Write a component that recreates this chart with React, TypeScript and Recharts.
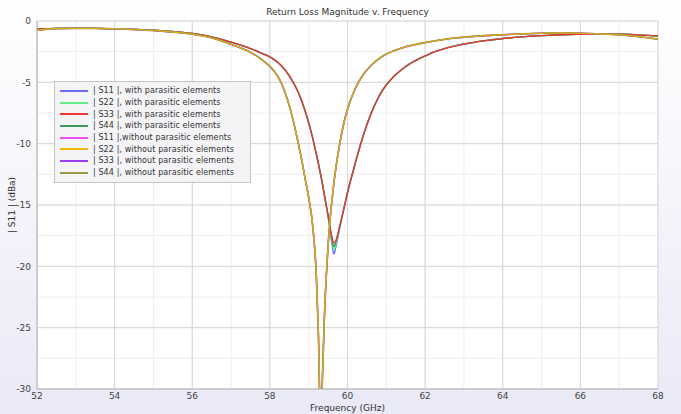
import { CartesianGrid, Line, LineChart, XAxis, YAxis } from 'recharts'

const freq = [
  52, 52.5, 53, 53.5, 54, 54.5, 55, 55.5, 56, 56.5, 57, 57.25, 57.5, 57.75, 58,
  58.1, 58.2, 58.3, 58.4, 58.5, 58.6, 58.7, 58.8, 58.9, 59, 59.1, 59.2,
  59.25, 59.3, 59.35, 59.4, 59.45, 59.5, 59.55, 59.6, 59.65, 59.7,
  59.8, 59.9, 60, 60.2, 60.4, 60.6, 60.8, 61, 61.2, 61.4, 61.6, 61.8, 62,
  62.25, 62.5, 62.75, 63, 63.5, 64, 64.5, 65, 65.5, 66, 66.5, 67, 67.5, 68,
]

// |S33| with parasitic elements (the four "with" traces overlap except at the dip)
const withParasitic = [
  -0.65, -0.6, -0.6, -0.6, -0.63, -0.68, -0.75, -0.86, -1.02, -1.3, -1.72, -1.97, -2.25, -2.57, -2.93,
  -3.13, -3.37, -3.67, -4.03, -4.47, -5.0, -5.6, -6.35, -7.25, -8.3, -9.5, -10.9,
  -11.6, -12.4, -13.2, -14.1, -15.0, -15.8, -16.8, -17.6, -18.1, -17.9,
  -16.7, -15.4, -14.0, -11.6, -9.4, -7.6, -6.2, -5.2, -4.5, -3.95, -3.5, -3.15, -2.85,
  -2.5, -2.25, -2.05, -1.88, -1.62, -1.43, -1.29, -1.19, -1.12, -1.08, -1.06, -1.08, -1.13, -1.22,
]

// |S44| without parasitic elements (the four "without" traces overlap)
const withoutParasitic = [
  -0.75, -0.62, -0.6, -0.6, -0.63, -0.69, -0.77, -0.9, -1.07, -1.38, -1.9, -2.2, -2.55, -3.05, -3.7,
  -4.05, -4.5, -5.1, -5.9, -6.9, -8.1, -9.5, -11.0, -12.7, -14.4, -16.6, -21.0,
  -25.5, -32.0, -29.5, -24.5, -21.0, -18.3, -16.2, -14.6, -13.2, -12.0,
  -10.0, -8.4, -7.2, -5.5, -4.4, -3.65, -3.1, -2.7, -2.42, -2.2, -2.02, -1.88, -1.76,
  -1.62, -1.5, -1.4, -1.32, -1.2, -1.12, -1.05, -1.0, -0.97, -1.0, -1.05, -1.13, -1.27, -1.48,
]

// dip values where the "with" traces part (freq -> dB)
const s11WithDip: Record<number, number> = { 59.5: -16.0, 59.55: -17.0, 59.6: -18.2, 59.65: -19.0, 59.7: -18.4, 59.8: -16.9 }
const s22WithDip: Record<number, number> = { 59.5: -15.9, 59.55: -16.9, 59.6: -17.9, 59.65: -18.7, 59.7: -18.2, 59.8: -16.8 }
const s44WithDip: Record<number, number> = { 59.5: -15.85, 59.55: -16.85, 59.6: -17.8, 59.65: -18.4, 59.7: -18.0, 59.8: -16.75 }

const xTicks = [52, 54, 56, 58, 60, 62, 64, 66, 68]
const yTicks = [-30, -25, -20, -15, -10, -5, 0]

const series = [
  { key: 's11With', name: '| S11 |, with parasitic elements', color: '#6b6bf2', base: withParasitic, dip: s11WithDip, width: 1.4 },
  { key: 's22With', name: '| S22 |, with parasitic elements', color: '#62ee8c', base: withParasitic, dip: s22WithDip, width: 1.4 },
  { key: 's33With', name: '| S33 |, with parasitic elements', color: '#ee3333', base: withParasitic, dip: {}, width: 1.3 },
  { key: 's44With', name: '| S44 |, with parasitic elements', color: '#3c9a5c', base: withParasitic, dip: s44WithDip, width: 1.4 },
  { key: 's11Without', name: '| S11 |,without parasitic elements', color: '#f050f0', base: withoutParasitic, dip: {}, width: 1.4 },
  { key: 's22Without', name: '| S22 |, without parasitic elements', color: '#f2b800', base: withoutParasitic, dip: {}, width: 0.8 },
  { key: 's33Without', name: '| S33 |, without parasitic elements', color: '#9a3cf0', base: withoutParasitic, dip: {}, width: 1.4 },
  { key: 's44Without', name: '| S44 |, without parasitic elements', color: '#9a9a44', base: withoutParasitic, dip: {}, width: 1.7 },
]

// draw order so the top colours match the picture
const drawOrder = ['s11With', 's22With', 's44With', 's33With', 's11Without', 's33Without', 's44Without', 's22Without']

const data = freq.map((f, i) => {
  const row: Record<string, number> = { f }
  series.forEach((s) => (row[s.key] = (s.dip as Record<number, number>)[f] ?? s.base[i]))
  return row
})

const minorX: number[] = []
for (let v = 52; v <= 68; v += 0.5) minorX.push(v)
const minorY: number[] = []
for (let v = -30; v <= 0; v += 1.25) minorY.push(v)

const font = 'DejaVu Sans, sans-serif'

function LegendBox() {
  return (
    <div
      style={{
        position: 'absolute',
        left: 54,
        top: 81,
        width: 197,
        boxSizing: 'border-box',
        background: '#f4f4f6',
        border: '1px solid #c4c4c4',
        padding: '3px 0 3px 5px',
        fontFamily: font,
        fontSize: 8,
        color: '#333',
        letterSpacing: 0.1,
      }}
    >
      {series.map((s) => (
        <div key={s.key} style={{ display: 'flex', alignItems: 'center', height: 11.7, whiteSpace: 'nowrap' }}>
          <span style={{ display: 'inline-block', width: 28, height: 2, background: s.color, marginRight: 5 }} />
          <span>{s.name}</span>
        </div>
      ))}
    </div>
  )
}

export default function App() {
  return (
    <div
      style={{
        position: 'absolute',
        left: 0,
        top: 0,
        width: 681,
        height: 414,
        background: 'linear-gradient(#ffffff, #eae9f7)',
        fontFamily: font,
      }}
    >
      <div
        style={{
          position: 'absolute',
          top: 7,
          left: 37,
          width: 621,
          textAlign: 'center',
          fontSize: 9,
          color: '#333',
        }}
      >
        Return Loss Magnitude v. Frequency
      </div>
      <LineChart width={681} height={414} data={data} margin={{ top: 21, right: 23, bottom: 0, left: 7 }}>
        <CartesianGrid fill="#ffffff" stroke="#eeeeee" verticalValues={minorX} horizontalValues={minorY} />
        <CartesianGrid stroke="#d6d6d6" fillOpacity={0} />
        <XAxis
          dataKey="f"
          type="number"
          domain={[52, 68]}
          ticks={xTicks}
          height={25}
          tickSize={0}
          tickMargin={4}
          stroke="#b4b4b4"
          tick={{ fill: '#444', fontSize: 9 }}
          label={{ value: 'Frequency (GHz)', position: 'insideBottom', offset: 3, fill: '#333', fontSize: 9 }}
        />
        <YAxis
          type="number"
          domain={[-30, 0]}
          ticks={yTicks}
          allowDataOverflow
          width={30}
          tickSize={0}
          tickMargin={6}
          stroke="#b4b4b4"
          tick={{ fill: '#444', fontSize: 9 }}
          label={{
            value: '| S11 | (dBa)',
            angle: -90,
            position: 'insideLeft',
            offset: 5,
            fill: '#333',
            fontSize: 9,
            style: { textAnchor: 'middle' },
          }}
        />
        {drawOrder.map((k) => {
          const s = series.find((x) => x.key === k)!
          return (
            <Line
              key={s.key}
              dataKey={s.key}
              name={s.name}
              stroke={s.color}
              strokeWidth={s.width}
              dot={false}
              type="monotone"
              isAnimationActive={false}
            />
          )
        })}
      </LineChart>
      <LegendBox />
    </div>
  )
}
